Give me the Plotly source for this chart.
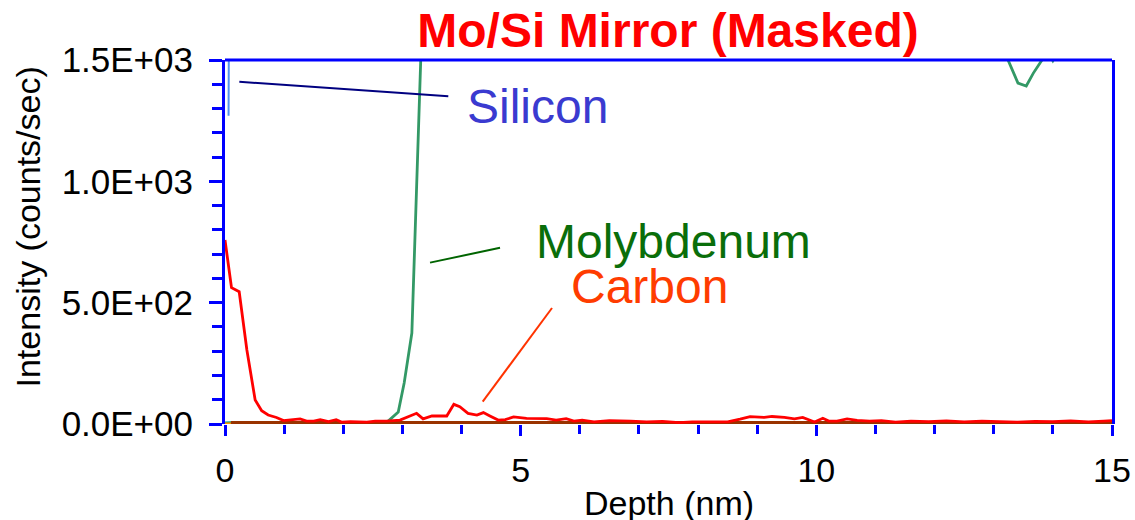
import plotly.graph_objects as go

# ---------------- data ----------------
si_depth = [0.06, 0.12, 0.5, 1.0, 2.0, 3.0, 4.0, 5.0, 6.0, 7.0, 8.0, 9.0, 10.0, 11.0, 12.0, 13.0, 14.0, 15.0]
si_counts = [1270, 25000, 27000, 26000, 24000, 22000, 20000, 21000, 22000, 21500, 22500, 21000, 22000, 21000, 22500, 21000, 22000, 21500]

mo_depth = [0.0, 0.3, 0.6, 1.0, 1.4, 1.8, 2.2, 2.6, 2.76, 2.93, 3.03, 3.16, 3.35, 3.6, 4.0, 5.0, 6.0, 7.0, 8.0,
            9.0, 10.0, 11.0, 12.0, 12.9, 13.1, 13.41, 13.55, 13.67, 13.83, 13.92, 14.0, 14.08, 14.3, 15.0]
mo_counts = [4, 3, 4, 3, 4, 3, 4, 5, 12, 49, 169, 375, 1800, 4000, 6000, 7000, 6500, 7000, 6800,
             6000, 5000, 4000, 3000, 1800, 1580, 1405, 1393, 1446, 1505, 1530, 1497, 1530, 2200, 3000]

c_depth = [0.0, 0.11, 0.24, 0.37, 0.51, 0.62, 0.73, 0.87, 0.99, 1.13, 1.27, 1.38, 1.5, 1.61, 1.75, 1.88,
           1.97, 2.12, 2.25, 2.4, 2.54, 2.73, 2.96, 3.1, 3.24, 3.35, 3.5, 3.75, 3.87, 3.97, 4.11, 4.26,
           4.37, 4.48, 4.62, 4.74, 4.88, 5.1, 5.27, 5.44, 5.6, 5.77, 5.9, 6.04, 6.24, 6.5, 6.86, 7.13,
           7.4, 7.68, 7.9, 8.16, 8.5, 8.71, 8.88, 9.12, 9.25, 9.46, 9.63, 9.77, 9.97, 10.11, 10.21, 10.35,
           10.52, 10.69, 10.9, 11.1, 11.34, 11.6, 11.9, 12.2, 12.5, 12.8, 13.1, 13.4, 13.7, 14.0, 14.3,
           14.6, 14.86, 15.0]
c_counts = [758, 562, 545, 305, 99, 55, 37, 27, 14, 16, 21, 12, 12, 18, 10, 18,
            8, 10, 8, 8, 12, 12, 16, 30, 44, 21, 33, 33, 81, 71, 44, 37,
            47, 33, 16, 18, 29, 23, 21, 22, 16, 22, 12, 16, 9, 14, 12, 9,
            11, 6, 9, 9, 9, 20, 30, 27, 31, 27, 21, 27, 8, 24, 12, 12,
            21, 15, 12, 14, 8, 12, 10, 13, 9, 12, 10, 8, 11, 10, 13,
            9, 12, 14]

orange_depth = [0.0, 1.0, 2.0, 3.0, 4.0, 4.3, 4.5, 5.0, 6.0, 7.0, 8.0, 9.0, 10.0, 10.3, 10.6, 11.0,
                11.7, 12.0, 12.4, 13.0, 13.5, 14.0, 15.0]
orange_counts = [2, 2, 2, 3, 4, 8, 4, 3, 2, 3, 2, 3, 3, 7, 3, 3, 7, 3, 6, 3, 6, 3, 4]

teal_depth = [0.0, 0.1, 0.2, 0.3, 0.5, 1.0]
teal_counts = [6, 8, 5, 3, 2, 2]

brown_depth = [0.1, 1.0, 2.0, 3.0, 4.0, 5.0, 6.0, 7.0, 8.0, 9.0, 10.0, 11.0, 12.0, 13.0, 14.0, 15.0]
brown_counts = [4, 4, 4, 4, 4, 4, 4, 4, 4, 4, 4, 4, 4, 4, 4, 4]

y_tickvals = [0, 500, 1000, 1500]
y_ticktext = ["0.0E+00", "5.0E+02", "1.0E+03", "1.5E+03"]
x_tickvals = [0, 5, 10, 15]
x_ticktext = ["0", "5", "10", "15"]

FONT = "Liberation Sans, Arial, sans-serif"
BLUE = "#0000ff"

fig = go.Figure()
fig.add_trace(go.Scatter(x=teal_depth, y=teal_counts, mode="lines", line=dict(color="#40c8c8", width=2), name="Trace A"))
fig.add_trace(go.Scatter(x=mo_depth, y=mo_counts, mode="lines", line=dict(color="#339966", width=2.8), name="Molybdenum"))
fig.add_trace(go.Scatter(x=si_depth, y=si_counts, mode="lines", line=dict(color="#4f8ff0", width=2), name="Silicon"))
fig.add_trace(go.Scatter(x=orange_depth, y=orange_counts, mode="lines", line=dict(color="#ff9900", width=2), name="Trace B"))
fig.add_trace(go.Scatter(x=brown_depth, y=brown_counts, mode="lines", line=dict(color="#993300", width=4), name="Trace C"))
fig.add_trace(go.Scatter(x=c_depth, y=c_counts, mode="lines", line=dict(color="#ff0000", width=2.8), name="Carbon"))

# leader lines
leaders = [
    ((0.242, 1410), (3.776, 1351), "#000080"),
    ((3.467, 665), (4.651, 726), "#006400"),
    ((4.358, 92), (5.53, 478), "#ff3300"),
]
for (x0, y0), (x1, y1), col in leaders:
    fig.add_shape(type="line", xref="x", yref="y", x0=x0, y0=y0, x1=x1, y1=y1,
                  line=dict(color=col, width=2))

# top border
fig.add_shape(type="line", xref="paper", yref="paper", x0=0, x1=1, y0=1, y1=1,
              line=dict(color=BLUE, width=3), layer="above")

labels = [
    ("Silicon", 5.290, 1307, "#3a3ad0"),
    ("Molybdenum", 7.590, 751, "#0a6e0a"),
    ("Carbon", 7.187, 566, "#ff3c00"),
]
for txt, x, y, col in labels:
    fig.add_annotation(text=txt, x=x, y=y, xref="x", yref="y", showarrow=False,
                       xanchor="center", yanchor="middle",
                       font=dict(family=FONT, size=48, color=col))

# axis titles
fig.add_annotation(text="Intensity (counts/sec)", textangle=-90, xref="paper", yref="paper",
                   x=-0.2221, y=0.0962, xanchor="center", yanchor="bottom", showarrow=False,
                   font=dict(family=FONT, size=34, color="black"))
fig.add_annotation(text="Depth (nm)", xref="paper", yref="paper", x=0.5, y=-0.216,
                   xanchor="center", yanchor="middle", showarrow=False,
                   font=dict(family=FONT, size=34, color="black"))

fig.update_layout(
    width=1135, height=520,
    margin=dict(l=225, r=23, t=60, b=96),
    paper_bgcolor="white", plot_bgcolor="white",
    showlegend=False,
    title=dict(text="<b>Mo/Si Mirror (Masked)</b>", x=668 / 1135, xanchor="center",
               y=1 - 30 / 520, yanchor="middle",
               font=dict(family=FONT, size=48, color="#ff0000")),
)
fig.update_xaxes(
    range=[0, 15], showgrid=False, zeroline=False, showline=False, automargin=False,
    tickmode="array", tickvals=x_tickvals, ticktext=x_ticktext,
    ticks="outside", ticklen=11, tickwidth=2.5, tickcolor=BLUE,
    ticklabelstandoff=5,
    tickfont=dict(family=FONT, size=34, color="black"),
    minor=dict(tickmode="linear", tick0=0, dtick=1, ticks="outside", ticklen=9, tickwidth=2.5, tickcolor=BLUE),
)
fig.update_yaxes(
    range=[0, 1500], showgrid=False, zeroline=False, showline=True, linecolor=BLUE, linewidth=3,
    mirror=True, automargin=False,
    tickmode="array", tickvals=y_tickvals, ticktext=y_ticktext,
    ticks="outside", ticklen=13, tickwidth=2.5, tickcolor=BLUE,
    ticklabelstandoff=9,
    tickfont=dict(family=FONT, size=35, color="black"),
    minor=dict(tickmode="linear", tick0=0, dtick=100, ticks="outside", ticklen=10, tickwidth=2.5, tickcolor=BLUE),
)

fig.write_html("out.html")
